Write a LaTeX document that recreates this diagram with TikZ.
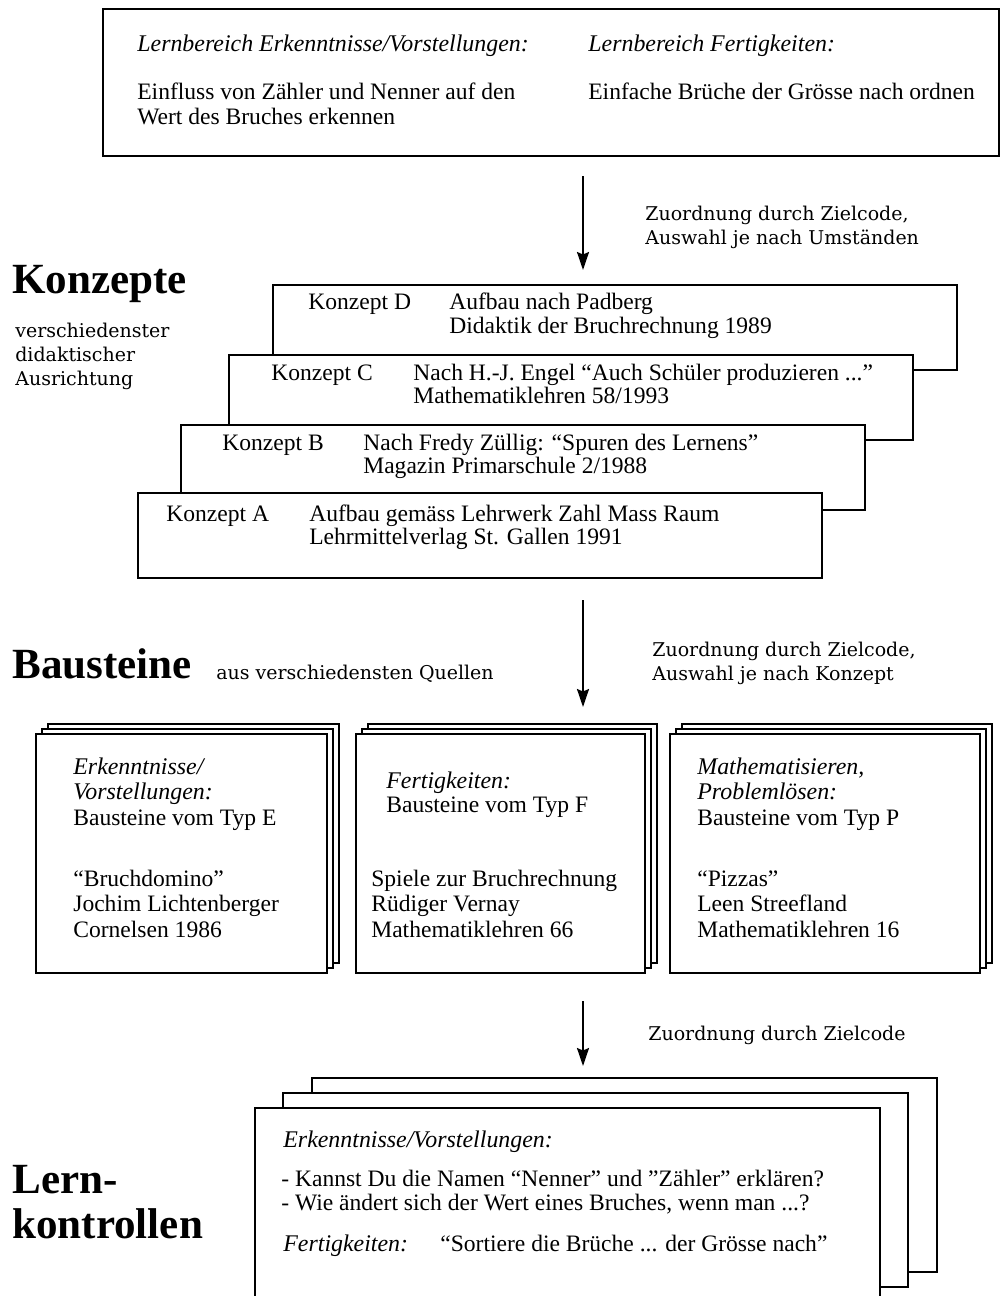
\documentclass[tikz,border=0pt]{standalone}
\usepackage{fontspec}
\setmainfont{Liberation Serif}
\newfontfamily\sidefont{DejaVu Serif}
\usetikzlibrary{positioning, arrows.meta}

\begin{document}
\begin{tikzpicture}[x=0.2mm, y=-0.2mm]
    % Define node styles
    \tikzstyle{txt} = [anchor=base west, inner sep=0pt, font=\fontsize{13.4}{15}\selectfont]
    \tikzstyle{itxt} = [anchor=base west, inner sep=0pt, font=\fontsize{13.6}{15}\selectfont\itshape]
    \tikzstyle{bighead} = [anchor=base west, inner sep=0pt, font=\fontsize{24.5}{26}\selectfont\bfseries]
    \tikzstyle{sidetxt} = [anchor=base west, inner sep=0pt, font=\sidefont\fontsize{10.8}{12}\selectfont]
    \tikzstyle{plainbox} = [draw, fill=white, line width=0.9pt, anchor=north west, inner sep=0pt]
    \tikzstyle{konbox} = [plainbox, minimum width=136.8mm, minimum height=17mm]
    \tikzstyle{baubox} = [plainbox, minimum height=47.8mm]
    \tikzstyle{lkbox} = [plainbox, minimum width=125mm, minimum height=38.8mm]
    \tikzstyle{flow} = [line width=1.1pt, -{Stealth[length=3.6mm, width=2.4mm, inset=0.5mm]}]

    \useasboundingbox (0,0) rectangle (1002,1296);

    % Lernbereich box (top)
    \node[plainbox, minimum width=179.2mm, minimum height=29.4mm] (lern) at (102,8) {};
    \node[itxt] (lernE) at (137,51) {Lernbereich Erkenntnisse/Vorstellungen:};
    \node[txt] (lernE1) at (137,99) {Einfluss von Zähler und Nenner auf den};
    \node[txt] (lernE2) at (137,124) {Wert des Bruches erkennen};
    \node[itxt] (lernF) at (588,51) {Lernbereich Fertigkeiten:};
    \node[txt] (lernF1) at (588,99) {Einfache Brüche der Grösse nach ordnen};

    % Arrow to Konzepte
    \coordinate (a1s) at (583,176);
    \coordinate (a1e) at (583,270);
    \draw[flow] (a1s) -- (a1e);
    \node[sidetxt] (zu1a) at (645,220) {Zuordnung durch Zielcode,};
    \node[sidetxt] (zu1b) at (645,244) {Auswahl je nach Umständen};

    % Konzepte
    \node[bighead] (konz) at (12,293) {Konzepte};
    \node[sidetxt] (konzA) at (15,337) {verschiedenster};
    \node[sidetxt] (konzB) at (15,361) {didaktischer};
    \node[sidetxt] (konzC) at (15,385) {Ausrichtung};

    \node[konbox] (konD) at (272,284) {};
    \node[txt] (konDl) at (308,309) {Konzept D};
    \node[txt] (konD1) at (449,309) {Aufbau nach Padberg};
    \node[txt] (konD2) at (449,333) {Didaktik der Bruchrechnung 1989};

    \node[konbox] (konC) at (228,354) {};
    \node[txt] (konCl) at (271,380) {Konzept C};
    \node[txt] (konC1) at (413,380) {Nach H.-J. Engel “Auch Schüler produzieren ...”};
    \node[txt] (konC2) at (413,403) {Mathematiklehren 58/1993};

    \node[konbox] (konB) at (180,424) {};
    \node[txt] (konBl) at (222,450) {Konzept B};
    \node[txt] (konB1) at (363,450) {Nach Fredy Züllig: “Spuren des Lernens”};
    \node[txt] (konB2) at (363,473) {Magazin Primarschule 2/1988};

    \node[konbox] (konA) at (137,492) {};
    \node[txt] (konAl) at (166,521) {Konzept A};
    \node[txt] (konA1) at (309,521) {Aufbau gemäss Lehrwerk Zahl Mass Raum};
    \node[txt] (konA2) at (309,544) {Lehrmittelverlag St. Gallen 1991};

    % Arrow to Bausteine
    \coordinate (a2s) at (583,600);
    \coordinate (a2e) at (583,707);
    \draw[flow] (a2s) -- (a2e);
    \node[sidetxt] (zu2a) at (652,656) {Zuordnung durch Zielcode,};
    \node[sidetxt] (zu2b) at (652,680) {Auswahl je nach Konzept};

    % Bausteine
    \node[bighead] (baus) at (12,678) {Bausteine};
    \node[sidetxt] (bausQ) at (216,679) {aus verschiedensten Quellen};

    \foreach \n/\x/\w in {E/35/58.2mm, F/355/57.8mm, P/669/62mm} {
        \node[baubox, minimum width=\w] (bau\n2) at (\x+12,723) {};
        \node[baubox, minimum width=\w] (bau\n1) at (\x+6,728) {};
        \node[baubox, minimum width=\w] (bau\n) at (\x,733) {};
    }

    \node[itxt] (bauE1) at (73,774) {Erkenntnisse/};
    \node[itxt] (bauE2) at (73,799) {Vorstellungen:};
    \node[txt] (bauE3) at (73,825) {Bausteine vom Typ E};
    \node[txt] (bauE4) at (73,886) {“Bruchdomino”};
    \node[txt] (bauE5) at (73,911) {Jochim Lichtenberger};
    \node[txt] (bauE6) at (73,937) {Cornelsen 1986};

    \node[itxt] (bauF1) at (386,788) {Fertigkeiten:};
    \node[txt] (bauF2) at (386,812) {Bausteine vom Typ F};
    \node[txt] (bauF3) at (371,886) {Spiele zur Bruchrechnung};
    \node[txt] (bauF4) at (371,911) {Rüdiger Vernay};
    \node[txt] (bauF5) at (371,937) {Mathematiklehren 66};

    \node[itxt] (bauP1) at (697,774) {Mathematisieren,};
    \node[itxt] (bauP2) at (697,799) {Problemlösen:};
    \node[txt] (bauP3) at (697,825) {Bausteine vom Typ P};
    \node[txt] (bauP4) at (697,886) {“Pizzas”};
    \node[txt] (bauP5) at (697,911) {Leen Streefland};
    \node[txt] (bauP6) at (697,937) {Mathematiklehren 16};

    % Arrow to Lernkontrollen
    \coordinate (a3s) at (583,1001);
    \coordinate (a3e) at (583,1066);
    \draw[flow] (a3s) -- (a3e);
    \node[sidetxt] (zu3) at (648,1040) {Zuordnung durch Zielcode};

    % Lernkontrollen
    \node[bighead] (lkA) at (12,1193) {Lern-};
    \node[bighead] (lkB) at (12,1238) {kontrollen};

    \foreach \i/\x/\y in {2/311/1077, 1/282/1092, 0/254/1107} {
        \node[lkbox] (lk\i) at (\x,\y) {};
    }
    \node[itxt] (lkE) at (283,1147) {Erkenntnisse/Vorstellungen:};
    \node[txt] (lkE1) at (281,1186) {- Kannst Du die Namen “Nenner” und ”Zähler” erklären?};
    \node[txt] (lkE2) at (281,1210) {- Wie ändert sich der Wert eines Bruches, wenn man ...?};
    \node[itxt] (lkF) at (283,1251) {Fertigkeiten:};
    \node[txt] (lkF1) at (440,1251) {“Sortiere die Brüche ... der Grösse nach”};
\end{tikzpicture}
\end{document}
